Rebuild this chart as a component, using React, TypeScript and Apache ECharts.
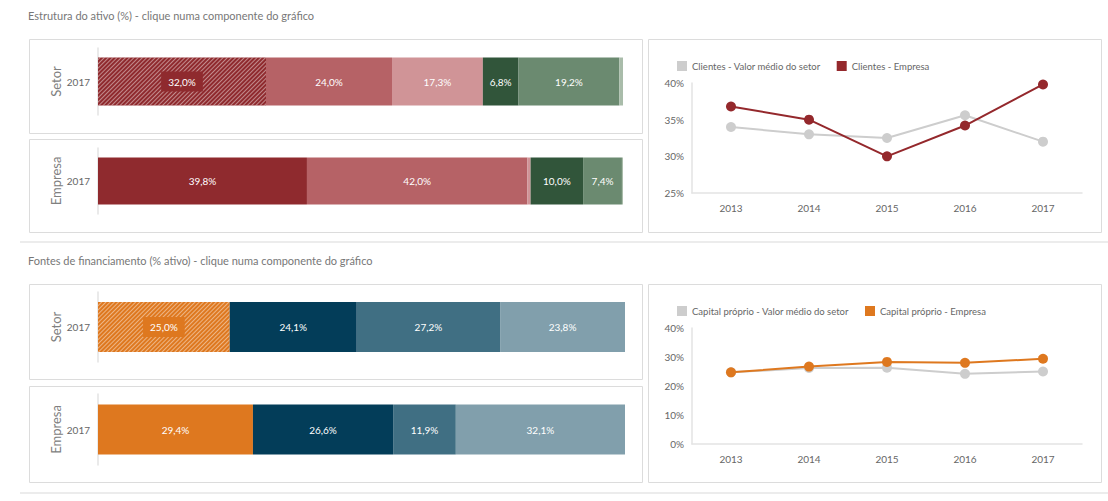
import React, { useEffect, useRef } from 'react';
import * as echarts from 'echarts';

const barYear = ['2017'];
const ativoComponentes = ['Clientes', 'Inventários', 'Outros ativos correntes', 'Ativo fixo tangível', 'Outros ativos não correntes', 'Outros'];
const ativoSetor = [32.0, 24.0, 17.3, 6.8, 19.2, 0.7];
const ativoEmpresa = [39.8, 42.0, 0.6, 10.0, 7.4, 0.2];
const ativoCores = ['#8f2a2e', '#b66266', '#d09497', '#31553a', '#6b8a70', '#a9bcaa'];

const financComponentes = ['Capital próprio', 'Financiamento obtido', 'Fornecedores', 'Outros passivos'];
const financSetor = [25.0, 24.1, 27.2, 23.8];
const financEmpresa = [29.4, 26.6, 11.9, 32.1];
const financCores = ['#de781f', '#033d59', '#406f83', '#819fac'];

const years = ['2013', '2014', '2015', '2016', '2017'];
const clientesSetor = [34.0, 33.0, 32.5, 35.6, 32.0];
const clientesEmpresa = [36.8, 35.0, 30.0, 34.2, 39.8];
const capitalSetor = [24.7, 26.2, 26.3, 24.2, 25.0];
const capitalEmpresa = [24.7, 26.7, 28.3, 28.0, 29.4];

const titulo1 = 'Estrutura do ativo (%) - clique numa componente do gráfico';
const titulo2 = 'Fontes de financiamento (% ativo) - clique numa componente do gráfico';

const FONT = 'Lato';
const GREY_LINE = '#cdcdcd';

function fmt(v: number) {
  return v.toFixed(1).replace('.', ',') + '%';
}

function barSeries(names: string[], values: number[], colors: string[], gi: number, bw: number, hatch: boolean) {
  return values.map((v, i) => {
    const isHatch = hatch && i === 0;
    const itemStyle: any = { color: colors[i] };
    if (isHatch) {
      itemStyle.decal = {
        symbol: 'rect',
        symbolSize: 1,
        dashArrayX: [1, 0],
        dashArrayY: [1, 2],
        rotation: -Math.PI / 4,
        color: 'rgba(255,255,255,0.45)',
      };
    }
    return {
      type: 'bar',
      name: names[i] + (gi % 2 === 0 ? ' - Setor' : ' - Empresa') + ' ' + gi,
      xAxisIndex: gi,
      yAxisIndex: gi,
      stack: 's' + gi,
      barWidth: bw,
      data: [v],
      itemStyle,
      emphasis: { disabled: true },
      label: {
        show: v >= 3,
        position: 'inside',
        formatter: (p: any) => fmt(p.value),
        color: '#ffffff',
        fontSize: 10,
        fontFamily: FONT,
        backgroundColor: isHatch ? colors[i] : 'transparent',
        padding: isHatch ? [5, 7] : 0,
      },
    };
  });
}

function barY(gi: number, name: string) {
  return {
    type: 'category',
    gridIndex: gi,
    data: barYear,
    name,
    nameLocation: 'middle',
    nameRotate: 90,
    nameGap: 36,
    nameTextStyle: { fontSize: 13, color: '#808080', fontFamily: FONT },
    axisLine: { show: true, lineStyle: { color: '#e3e3e3', width: 1.5 } },
    axisTick: { show: false },
    axisLabel: { color: '#666', fontSize: 10, margin: 8, fontFamily: FONT },
  };
}

function barX(gi: number) {
  return { type: 'value', gridIndex: gi, min: 0, max: 100, show: false };
}

function panel(x: number, y: number, w: number, h: number) {
  return {
    type: 'rect',
    z: -1,
    shape: { x, y, width: w, height: h },
    style: { fill: '#ffffff', stroke: '#dcdcdc', lineWidth: 1 },
  };
}

export default function App() {
  const ref = useRef<HTMLDivElement>(null);
  useEffect(() => {
    const chart = echarts.init(ref.current!, null, { renderer: 'svg' });
    const lineSeries = (name: string, data: number[], color: string, gi: number, z: number) => ({
      type: 'line',
      name,
      xAxisIndex: gi,
      yAxisIndex: gi,
      data,
      z,
      symbol: 'circle',
      symbolSize: 10,
      showSymbol: true,
      itemStyle: { color },
      lineStyle: { color, width: 2 },
      emphasis: { disabled: true },
    });

    const legendText = { color: '#666', fontSize: 9.5, fontFamily: FONT };

    const option: any = {
      animation: false,
      textStyle: { fontFamily: FONT },
      graphic: [
        { type: 'rect', z: -2, shape: { x: 20, y: 241, width: 1088, height: 2 }, style: { fill: '#ececec' } },
        { type: 'rect', z: -2, shape: { x: 20, y: 492, width: 1088, height: 2 }, style: { fill: '#ececec' } },
        panel(29.5, 39.5, 613, 94),
        panel(29.5, 139.5, 613, 93),
        panel(648.5, 39.5, 453, 193),
        panel(29.5, 284.5, 613, 95),
        panel(29.5, 386.5, 613, 96),
        panel(648.5, 284.5, 453, 198),
        {
          type: 'text',
          left: 28,
          top: 10,
          style: { text: titulo1, fill: '#777', fontSize: 11, fontFamily: FONT },
        },
        {
          type: 'text',
          left: 28,
          top: 255,
          style: { text: titulo2, fill: '#777', fontSize: 11, fontFamily: FONT },
        },
      ],
      legend: [
        {
          left: 672,
          top: 56,
          icon: 'rect',
          itemWidth: 10,
          itemHeight: 10,
          itemGap: 16,
          data: ['Clientes - Valor médio do setor', 'Clientes - Empresa'],
          textStyle: legendText,
          selectedMode: false,
        },
        {
          left: 672,
          top: 301,
          icon: 'rect',
          itemWidth: 10,
          itemHeight: 10,
          itemGap: 16,
          data: ['Capital próprio - Valor médio do setor', 'Capital próprio - Empresa'],
          textStyle: legendText,
          selectedMode: false,
        },
      ],
      grid: [
        { left: 98, top: 48, width: 525, height: 67 },
        { left: 98, top: 148, width: 525, height: 66 },
        { left: 98, top: 292, width: 527, height: 70 },
        { left: 98, top: 394, width: 527, height: 71 },
        { left: 692, top: 83, width: 390, height: 110 },
        { left: 692, top: 328, width: 390, height: 116 },
      ],
      xAxis: [
        barX(0),
        barX(1),
        barX(2),
        barX(3),
        {
          type: 'category',
          gridIndex: 4,
          data: years,
          axisLine: { lineStyle: { color: '#e3e3e3', width: 1.5 } },
          axisTick: { show: false },
          axisLabel: { color: '#666', fontSize: 10, margin: 10, fontFamily: FONT },
        },
        {
          type: 'category',
          gridIndex: 5,
          data: years,
          axisLine: { lineStyle: { color: '#e3e3e3', width: 1.5 } },
          axisTick: { show: false },
          axisLabel: { color: '#666', fontSize: 10, margin: 10, fontFamily: FONT },
        },
      ],
      yAxis: [
        barY(0, 'Setor'),
        barY(1, 'Empresa'),
        barY(2, 'Setor'),
        barY(3, 'Empresa'),
        {
          type: 'value',
          gridIndex: 4,
          min: 25,
          max: 40,
          interval: 5,
          axisLine: { show: true, lineStyle: { color: '#e3e3e3', width: 1.5 } },
          axisTick: { show: false },
          splitLine: { show: false },
          axisLabel: { color: '#666', fontSize: 10, margin: 8, formatter: '{value}%', fontFamily: FONT },
        },
        {
          type: 'value',
          gridIndex: 5,
          min: 0,
          max: 40,
          interval: 10,
          axisLine: { show: true, lineStyle: { color: '#e3e3e3', width: 1.5 } },
          axisTick: { show: false },
          splitLine: { show: false },
          axisLabel: { color: '#666', fontSize: 10, margin: 8, formatter: '{value}%', fontFamily: FONT },
        },
      ],
      series: [
        ...barSeries(ativoComponentes, ativoSetor, ativoCores, 0, 48, true),
        ...barSeries(ativoComponentes, ativoEmpresa, ativoCores, 1, 47, false),
        ...barSeries(financComponentes, financSetor, financCores, 2, 50, true),
        ...barSeries(financComponentes, financEmpresa, financCores, 3, 50, false),
        lineSeries('Clientes - Valor médio do setor', clientesSetor, GREY_LINE, 4, 2),
        lineSeries('Clientes - Empresa', clientesEmpresa, '#94282c', 4, 3),
        lineSeries('Capital próprio - Valor médio do setor', capitalSetor, GREY_LINE, 5, 2),
        lineSeries('Capital próprio - Empresa', capitalEmpresa, '#de781f', 5, 3),
      ],
    };
    chart.setOption(option);
    return () => chart.dispose();
  }, []);
  return <div ref={ref} style={{ position: 'absolute', left: 0, top: 0, width: 1108, height: 501 }} />;
}
